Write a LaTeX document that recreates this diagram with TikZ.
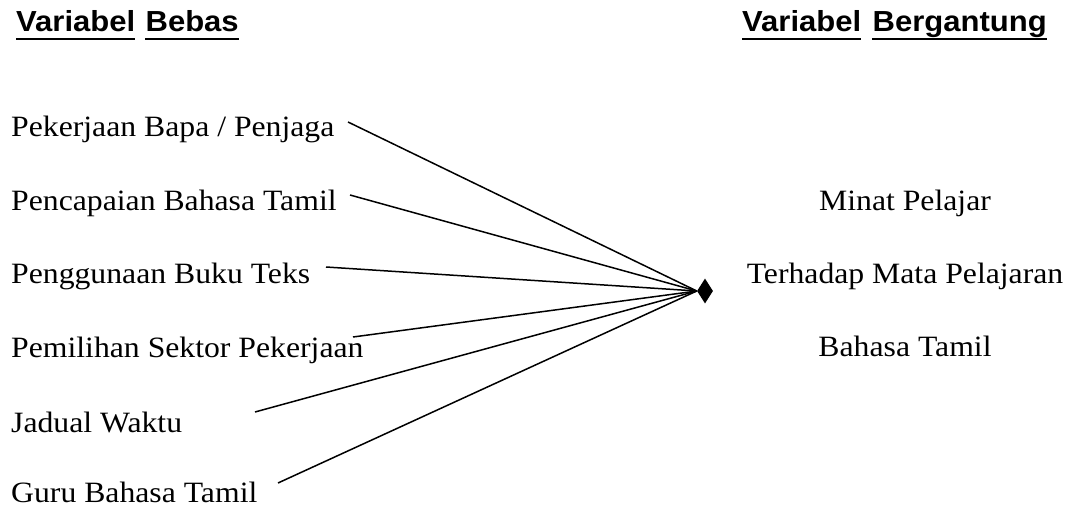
\documentclass[tikz,border=0pt]{standalone}
\usepackage{fontspec}
\setmainfont{Liberation Serif}[FakeStretch=1.075]
\newfontfamily\headfont{Liberation Sans}[FakeStretch=1.07]
\usepackage{tikz}
\usetikzlibrary{shapes.geometric,positioning}

\newcommand{\itemfont}{\fontsize{29.5}{32}\selectfont}
\newcommand{\titlefont}{\headfont\bfseries\fontsize{29}{32}\selectfont}

\begin{document}
\begin{tikzpicture}[
              x=1pt, y=-1pt,
              every node/.style={inner sep=0pt},
              item/.style={anchor=base west, font=\itemfont},
              dep/.style={anchor=base, font=\itemfont},
              head/.style={anchor=base west, font=\titlefont},
              uline/.style={line width=2.4pt},
              hub/.style={diamond, fill=black, minimum width=16pt, minimum height=25pt},
              link/.style={line width=1.5pt}
            ]
            \useasboundingbox (0,0) rectangle (1085,511);

            % Headings
            \node[head] (lv) at (16,32) {Variabel};
            \node[head, base right=10pt of lv] (lb) {Bebas};
            \node[head] (rv) at (742,32) {Variabel};
            \node[head, base right=11pt of rv] (rb) {Bergantung};
            \foreach \w in {lv,lb,rv,rb}
              \draw[uline] ([yshift=-7pt]\w.base west) -- ([yshift=-7pt]\w.base east);

            % Nodes
            \node[item] (a1) at (11,136) {Pekerjaan Bapa / Penjaga};
            \node[item] (a2) at (11,210) {Pencapaian Bahasa Tamil};
            \node[item] (a3) at (11,283) {Penggunaan Buku Teks};
            \node[item] (a4) at (11,357) {Pemilihan Sektor Pekerjaan};
            \node[item] (a5) at (11,432) {Jadual Waktu};
            \node[item] (a6) at (11,502) {Guru Bahasa Tamil};

            \node[hub] (hub) at (705,291) {};

            \node[dep] (b1) at (905,210) {Minat Pelajar};
            \node[dep] (b2) at (905,283) {Terhadap Mata Pelajaran};
            \node[dep] (b3) at (905,356) {Bahasa Tamil};

            % Edges
            \coordinate (s1) at (348,122);
            \coordinate (s2) at (350,195);
            \coordinate (s3) at (326,267);
            \coordinate (s4) at (353,337);
            \coordinate (s5) at (255,412);
            \coordinate (s6) at (278,483);
            \foreach \s in {s1,s2,s3,s4,s5,s6}
              \draw[link] (\s) -- (hub.west);

            \end{tikzpicture}
\end{document}
